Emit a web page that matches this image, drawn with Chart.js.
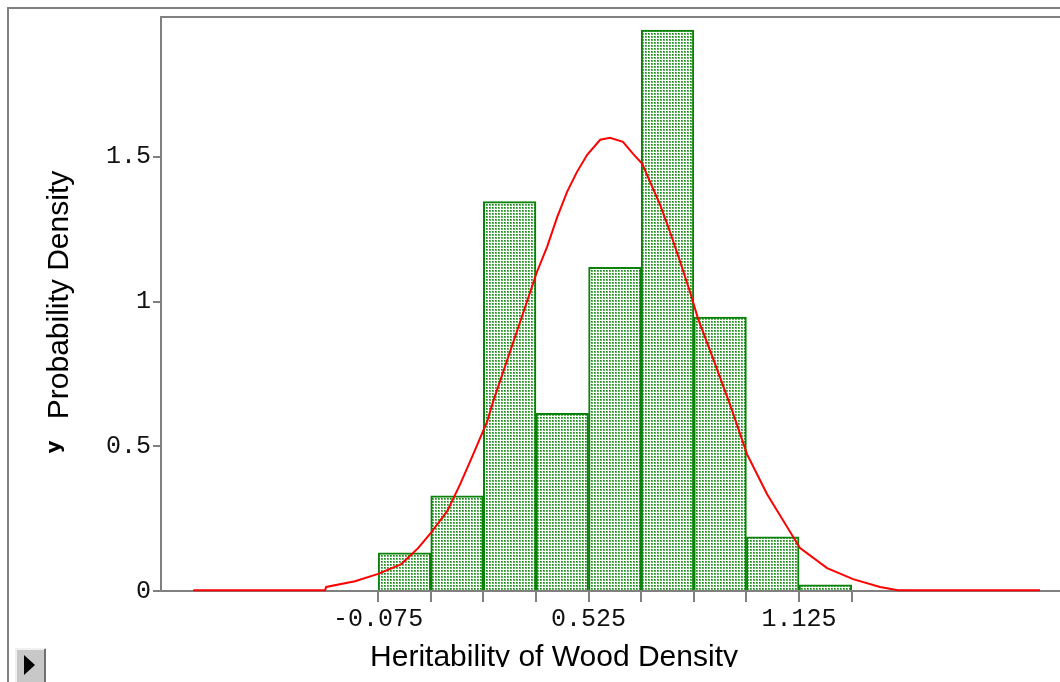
<!DOCTYPE html>
<html>
<head>
<meta charset="utf-8">
<script src="https://cdn.jsdelivr.net/npm/chart.js@4.4.1/dist/chart.umd.min.js"></script>
<style>
  body { margin: 0; background: #fff; }
  #wrap { position: relative; width: 1060px; height: 682px; }
</style>
</head>
<body>
<div id="wrap"><canvas id="densityChart"></canvas></div>
<script>
// histogram bins (width 0.15)
const binEdges = [-0.075, 0.075, 0.225, 0.375, 0.525, 0.675, 0.825, 0.975, 1.125, 1.275];
const binCenters = [0, 0.15, 0.3, 0.45, 0.6, 0.75, 0.9, 1.05, 1.2];
const densities = [0.132, 0.329, 1.345, 0.614, 1.118, 1.938, 0.946, 0.187, 0.021];

// fitted curve
const curveX = [-0.602, -0.226, -0.223, -0.141, -0.075, -0.009, 0.039, 0.073, 0.122, 0.159, 0.196, 0.236, 0.253,
  0.330, 0.378, 0.407, 0.435, 0.464, 0.492, 0.521, 0.558, 0.586, 0.623, 0.652, 0.678, 0.700, 0.729, 0.757,
  0.786, 0.814, 0.837, 0.880, 0.928, 0.977, 1.034, 1.128, 1.205, 1.279, 1.356, 1.407, 1.812];
const curveY = [0.003, 0.003, 0.014, 0.034, 0.059, 0.093, 0.148, 0.197, 0.276, 0.369, 0.472, 0.586, 0.655,
  0.93, 1.103, 1.19, 1.29, 1.38, 1.448, 1.507, 1.559, 1.566, 1.552, 1.51, 1.476, 1.414, 1.334, 1.241,
  1.138, 1.034, 0.941, 0.803, 0.645, 0.472, 0.334, 0.148, 0.079, 0.041, 0.014, 0.003, 0.003];

const xTickLabels = ['-0.075', '', '', '', '0.525', '', '', '', '1.125', ''];
const yTickValues = [0, 0.5, 1, 1.5];
const yTickLabels = ['0', '0.5', '1', '1.5'];

const axisGray = '#808080';

function dotPattern() {
  const c = document.createElement('canvas');
  c.width = 3; c.height = 3;
  const g = c.getContext('2d');
  g.fillStyle = '#ffffff';
  g.fillRect(0, 0, 3, 3);
  g.fillStyle = '#64b464';
  g.fillRect(0, 0, 2, 2);
  g.fillStyle = '#128a12';
  g.fillRect(0, 0, 1, 1);
  return g.createPattern(c, 'repeat');
}

const decorations = {
  id: 'decorations',
  afterDraw(chart) {
    const ctx = chart.ctx;
    const area = chart.chartArea;
    ctx.save();
    // outer frame and plot top line
    ctx.strokeStyle = axisGray;
    ctx.lineWidth = 2;
    ctx.beginPath();
    ctx.moveTo(8, 682); ctx.lineTo(8, 8); ctx.lineTo(1060, 8);
    ctx.moveTo(area.left, area.top); ctx.lineTo(1060, area.top);
    ctx.stroke();

    ctx.fillStyle = '#000';
    // y title
    ctx.save();
    ctx.translate(68, 295);
    ctx.rotate(-Math.PI / 2);
    ctx.font = '30px "Liberation Sans", Arial, sans-serif';
    ctx.textAlign = 'center';
    ctx.textBaseline = 'alphabetic';
    ctx.fillText('Probability Density', 0, 0);
    ctx.restore();

    // small y marker
    ctx.save();
    ctx.translate(60, 447);
    ctx.rotate(-Math.PI / 2);
    ctx.font = 'bold 20px "DejaVu Sans", sans-serif';
    ctx.textAlign = 'center';
    ctx.textBaseline = 'alphabetic';
    ctx.fillText('y', 0, 0);
    ctx.restore();

    // x title, cut at the bottom like the original
    ctx.save();
    ctx.beginPath();
    ctx.rect(300, 630, 500, 37);
    ctx.clip();
    ctx.font = '30px "Liberation Sans", Arial, sans-serif';
    ctx.textAlign = 'center';
    ctx.textBaseline = 'alphabetic';
    ctx.fillText('Heritability of Wood Density', 554, 666);
    ctx.restore();

    // little play button
    ctx.fillStyle = '#c8c8c8';
    ctx.fillRect(15, 648, 31, 34);
    ctx.strokeStyle = '#f0f0f0';
    ctx.lineWidth = 2;
    ctx.beginPath();
    ctx.moveTo(16, 682); ctx.lineTo(16, 649); ctx.lineTo(45, 649);
    ctx.stroke();
    ctx.strokeStyle = '#707070';
    ctx.beginPath();
    ctx.moveTo(45, 649); ctx.lineTo(45, 682);
    ctx.stroke();
    ctx.fillStyle = '#000';
    ctx.beginPath();
    ctx.moveTo(24, 655); ctx.lineTo(35, 665); ctx.lineTo(24, 675);
    ctx.closePath();
    ctx.fill();
    ctx.restore();
  }
};

new Chart('densityChart', {
  type: 'bar',
  data: {
    datasets: [{
      type: 'line',
      data: curveX.map((x, i) => ({ x: x, y: curveY[i] })),
      borderColor: '#ff0000',
      borderWidth: 2,
      pointRadius: 0,
      tension: 0,
      clip: false,
      order: 1
    }, {
      type: 'bar',
      data: binCenters.map((x, i) => ({ x: x, y: densities[i] })),
      backgroundColor: dotPattern(),
      borderColor: '#0a820a',
      borderWidth: 2,
      barPercentage: 1,
      categoryPercentage: 1,
      order: 2
    }]
  },
  options: {
    responsive: true,
    maintainAspectRatio: false,
    animation: false,
    layout: { padding: { top: 16, left: 0, right: 0, bottom: 0 } },
    plugins: { legend: { display: false }, tooltip: { enabled: false } },
    scales: {
      x: {
        type: 'linear',
        offset: false,
        min: -0.694,
        max: 1.869,
        afterBuildTicks: (scale) => { scale.ticks = binEdges.map(v => ({ value: v })); },
        afterFit: (scale) => { scale.height = 91; },
        ticks: {
          autoSkip: false,
          maxRotation: 0,
          padding: 2,
          color: '#111',
          font: { family: '"Liberation Mono", "DejaVu Sans Mono", monospace', size: 25 },
          callback: (v, i) => xTickLabels[i]
        },
        grid: { drawOnChartArea: false, offset: false, tickLength: 11, color: axisGray, lineWidth: 2 },
        border: { color: axisGray, width: 2 }
      },
      y: {
        min: 0,
        max: 1.983,
        afterBuildTicks: (scale) => { scale.ticks = yTickValues.map(v => ({ value: v })); },
        afterFit: (scale) => { scale.width = 161; },
        ticks: {
          padding: 2,
          color: '#111',
          font: { family: '"Liberation Mono", "DejaVu Sans Mono", monospace', size: 25 },
          callback: (v, i) => yTickLabels[i]
        },
        grid: { drawOnChartArea: false, tickLength: 8, color: axisGray, lineWidth: 2 },
        border: { color: axisGray, width: 2 }
      }
    }
  },
  plugins: [decorations]
});
</script>
</body>
</html>
